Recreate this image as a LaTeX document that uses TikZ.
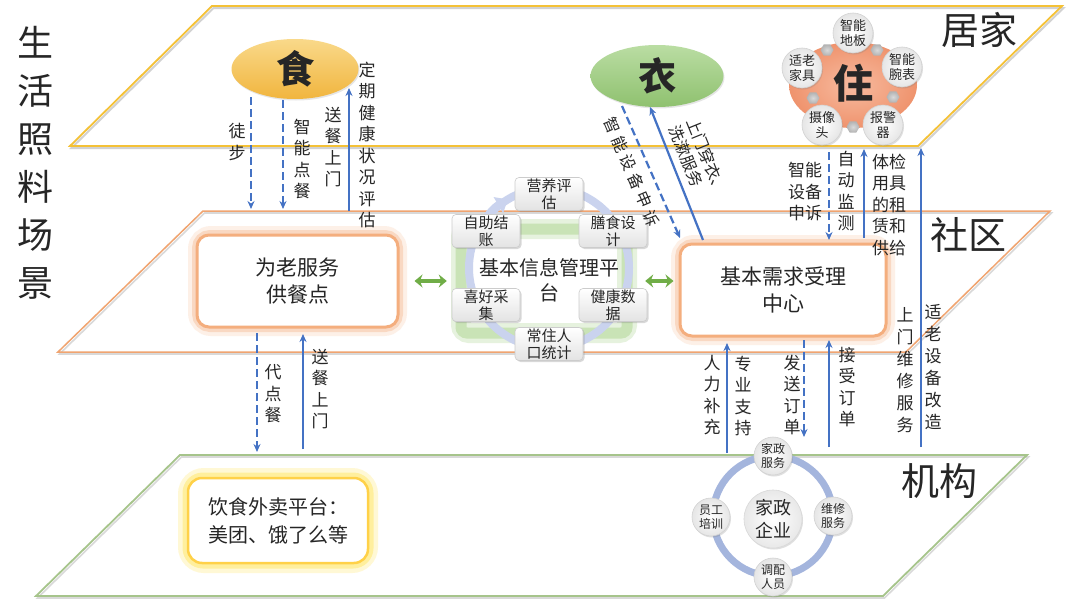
\documentclass[tikz,border=0pt]{standalone}
\usepackage{fontspec}
\setmainfont{Noto Sans CJK SC}
\usetikzlibrary{arrows.meta,shapes.geometric,shadows}
\definecolor{cgold}{HTML}{F4C136}
\definecolor{corg}{HTML}{F0A470}
\definecolor{cgrn}{HTML}{A6C48B}
\definecolor{cblue}{HTML}{4472C4}
\definecolor{cdgrn}{HTML}{70AD47}
\definecolor{cring}{HTML}{CAD3EE}
\definecolor{cring2}{HTML}{A4B5DD}
\definecolor{cglowg}{HTML}{C9E3B6}
\definecolor{cboxo}{HTML}{F4AE7E}
\definecolor{cyel}{HTML}{FFE65A}
\definecolor{shitop}{HTML}{F9D98A}
\definecolor{shibot}{HTML}{F1B53E}
\definecolor{yitop}{HTML}{BADDA3}
\definecolor{yibot}{HTML}{8FC16F}
\definecolor{zhuin}{HTML}{F7BBA0}
\definecolor{zhuout}{HTML}{EF936D}
\begin{document}
\begin{tikzpicture}[x=1pt,y=-1pt,
  every node/.style={inner sep=0pt, text=black!85},
  vlab/.style={align=center, font=\fontsize{17}{21.5}\selectfont},
  big/.style={font=\fontsize{38}{40}\selectfont},
  arrowsolid/.style={draw=cblue, line width=2.2pt, -{Stealth[length=8pt,width=7pt]}},
  arrowdash/.style={arrowsolid, dash pattern=on 8pt off 4pt},
  dblarrow/.style={draw=cdgrn, line width=4pt, {Stealth[length=8pt,width=13pt]}-{Stealth[length=8pt,width=13pt]}},
  obox/.style={draw=cboxo, line width=3pt, rounded corners=12pt, fill=white, align=center, font=\fontsize{21}{27}\selectfont},
  sbox/.style={rounded corners=4pt, minimum width=68pt, minimum height=33pt, top color=white, bottom color=gray!22, draw=gray!40, line width=0.6pt, drop shadow={opacity=.3, shadow xshift=1.5pt, shadow yshift=-1.5pt}, align=center, font=\fontsize{15}{17}\selectfont},
  scirc/.style={circle, minimum size=40pt, inner color=white, outer color=gray!20, draw=gray!35, line width=0.6pt, drop shadow={opacity=.25, shadow xshift=1pt, shadow yshift=-1.5pt}, align=center, font=\fontsize{13}{15}\selectfont},
  hexa/.style={regular polygon, regular polygon sides=6, minimum size=13pt, inner color=gray!30, outer color=gray!60}
]
\useasboundingbox (0,0) rectangle (1080,608);
\fill[white] (0,0) rectangle (1080,608);

% planes
\draw[gray!35, line width=2pt] (213.5,8) -- (1063.5,8) -- (919.5,148) -- (71.5,148) -- cycle;
\draw[cgold, line width=1.8pt] (212,6) -- (1062,6) -- (918,146) -- (70,146) -- cycle;
\draw[gray!30, line width=1.6pt] (204.5,213) -- (1051.5,213) -- (907.5,354) -- (59.5,354) -- cycle;
\draw[corg, line width=1.5pt] (203,211) -- (1050,211) -- (906,352) -- (58,352) -- cycle;
\draw[gray!30, line width=1.6pt] (181.5,457) -- (1028.5,457) -- (884.5,598) -- (37.5,598) -- cycle;
\draw[cgrn, line width=1.8pt] (180,455) -- (1027,455) -- (883,596) -- (36,596) -- cycle;

% titles
\node[big] (tju) at (979,30) {居家};
\node[big] (tsq) at (968,235) {社区};
\node[big] (tjg) at (939,481) {机构};
\node[align=center, font=\fontsize{36}{48}\selectfont] (ttl) at (35,163) {生\\活\\照\\料\\场\\景};

% top layer
\node[ellipse, minimum width=127pt, minimum height=60pt, top color=shitop, bottom color=shibot, drop shadow={opacity=.2, shadow xshift=1pt, shadow yshift=-1.5pt}, font=\fontsize{38}{40}\selectfont\bfseries] (shi) at (295,69) {食};
\node[ellipse, minimum width=133pt, minimum height=62pt, top color=yitop, bottom color=yibot, drop shadow={opacity=.2, shadow xshift=1pt, shadow yshift=-1.5pt}, font=\fontsize{38}{40}\selectfont\bfseries] (yi) at (657,76) {衣};

% zhu cluster
\node[ellipse, minimum width=128pt, minimum height=86pt, inner color=zhuin, outer color=zhuout] (zhubg) at (853,85) {};
\node[hexa] (h1) at (827,50) {};
\node[hexa] (h2) at (877,50) {};
\node[hexa] (h3) at (893,97) {};
\node[hexa] (h4) at (853,127) {};
\node[hexa] (h5) at (813,98) {};
\node[scirc] (z1) at (853,33) {智能\\地板};
\node[scirc] (z2) at (902,67) {智能\\腕表};
\node[scirc] (z3) at (883,125) {报警\\器};
\node[scirc] (z4) at (822,125) {摄像\\头};
\node[scirc] (z5) at (802,68) {适老\\家具};
\node[font=\fontsize{40}{42}\selectfont\bfseries] (zhu) at (853,83) {住};

% middle layer: food box
\draw[cboxo, opacity=.18, line width=18pt, rounded corners=14pt] (197,235) rectangle (398,327);
\draw[cboxo, opacity=.35, line width=10pt, rounded corners=13pt] (197,235) rectangle (398,327);
\node[obox, minimum width=201pt, minimum height=92pt] (food) at (297.5,281) {为老服务\\供餐点};

% service center
\draw[cboxo, opacity=.18, line width=18pt, rounded corners=14pt] (680,244) rectangle (886,336);
\draw[cboxo, opacity=.35, line width=10pt, rounded corners=13pt] (680,244) rectangle (886,336);
\node[obox, minimum width=206pt, minimum height=92pt] (ctr) at (783,290) {基本需求受理\\中心};

% platform
\draw[cglowg, opacity=.45, line width=20pt, rounded corners=8pt] (461,229) rectangle (627,333);
\draw[cglowg, line width=11pt, rounded corners=6pt] (461,229) rectangle (627,333);
\node[minimum width=193pt, minimum height=113pt] (plat) at (548.5,281) {};
\draw[cring, line width=8pt] (549,268) circle[radius=80];
\draw[cring, line width=8pt, -{Triangle[length=11pt,width=18pt]}] (549,268) ++(-160:80) arc[start angle=-160, end angle=-121, radius=80];
\node[sbox] (p1) at (549,194) {营养评\\估};
\node[sbox] (p2) at (486,231) {自助结\\账};
\node[sbox] (p3) at (613,231) {膳食设\\计};
\node[sbox] (p4) at (486,305) {喜好采\\集};
\node[sbox] (p5) at (613,305) {健康数\\据};
\node[sbox] (p6) at (549,344) {常住人\\口统计};
\node[align=center, font=\fontsize{20}{25}\selectfont] (ptxt) at (549,280) {基本信息管理平\\台};

\draw[dblarrow, shorten <=15pt, shorten >=5pt] (food.east) -- (food.east -| plat.west);
\draw[dblarrow, shorten <=0pt, shorten >=5pt] (plat.east) -- (plat.east -| ctr.west);

% bottom layer
\draw[cyel, opacity=.25, line width=20pt, rounded corners=16pt] (188,478) rectangle (368,563);
\draw[cyel, opacity=.45, line width=11pt, rounded corners=15pt] (188,478) rectangle (368,563);
\node[draw=cyel!80!orange, line width=2.5pt, fill=white, rounded corners=14pt, minimum width=180pt, minimum height=85pt, align=center, font=\fontsize{20}{28}\selectfont] (wm) at (278,520.5) {饮食外卖平台：\\美团、饿了么等};

% jiazheng cluster
\draw[cring2, line width=7pt] (773,516) circle[radius=60];
\node[circle, minimum size=58pt, inner color=white, outer color=gray!18, draw=gray!30, line width=0.6pt, drop shadow={opacity=.25, shadow xshift=1pt, shadow yshift=-1.5pt}, align=center, font=\fontsize{18}{23}\selectfont] (jz) at (773,519) {家政\\企业};
\node[scirc, minimum size=38pt, font=\fontsize{12}{14}\selectfont] (j1) at (773,456) {家政\\服务};
\node[scirc, minimum size=38pt, font=\fontsize{12}{14}\selectfont] (j2) at (833,516) {维修\\服务};
\node[scirc, minimum size=38pt, font=\fontsize{12}{14}\selectfont] (j3) at (773,577) {调配\\人员};
\node[scirc, minimum size=38pt, font=\fontsize{12}{14}\selectfont] (j4) at (711,517) {员工\\培训};

% arrow endpoints
\coordinate (a1s) at (251,97);  \coordinate (a1e) at (251,209);
\coordinate (a2s) at (283,100); \coordinate (a2e) at (283,209);
\coordinate (a3s) at (349,211); \coordinate (a3e) at (349,88);
\coordinate (a4s) at (622,106); \coordinate (a4e) at (680,238);
\coordinate (a5s) at (703,240); \coordinate (a5e) at (650,107);
\coordinate (a6s) at (829,152); \coordinate (a6e) at (829,240);
\coordinate (a7s) at (864,238); \coordinate (a7e) at (864,149);
\coordinate (a8s) at (921,447); \coordinate (a8e) at (921,148);
\coordinate (a9s) at (257,333); \coordinate (a9e) at (257,452);
\coordinate (a10s) at (303,449); \coordinate (a10e) at (303,334);
\coordinate (a11s) at (727,453); \coordinate (a11e) at (727,343);
\coordinate (a12s) at (804,340); \coordinate (a12e) at (804,437);
\coordinate (a13s) at (829,447); \coordinate (a13e) at (829,340);

\draw[arrowdash] (a1s) -- (a1e);
\draw[arrowdash] (a2s) -- (a2e);
\draw[arrowsolid] (a3s) -- (a3e);
\draw[arrowdash] (a4s) -- (a4e);
\draw[arrowsolid] (a5s) -- (a5e);
\draw[arrowdash] (a6s) -- (a6e);
\draw[arrowsolid] (a7s) -- (a7e);
\draw[arrowsolid] (a8s) -- (a8e);
\draw[arrowdash] (a9s) -- (a9e);
\draw[arrowsolid] (a10s) -- (a10e);
\draw[arrowsolid] (a11s) -- (a11e);
\draw[arrowdash] (a12s) -- (a12e);
\draw[arrowsolid] (a13s) -- (a13e);

% labels
\node[vlab] (l1) at (237,142) {徒\\步};
\node[vlab] (l2) at (302,159) {智\\能\\点\\餐};
\node[vlab] (l3) at (333,147) {送\\餐\\上\\门};
\node[vlab] (l4) at (367,145) {定\\期\\健\\康\\状\\况\\评\\估};
\node[font=\fontsize{16}{19}\selectfont, rotate=-67] (l5) at (632,172) {智\hspace{4pt}能\hspace{4pt}设\hspace{4pt}备\hspace{4pt}申\hspace{4pt}诉};
\node[align=left, font=\fontsize{16}{19}\selectfont, rotate=-68] (l6) at (698,160) {上门穿衣、\\洗漱服务};
\node[vlab] (l7) at (805,192) {智能\\设备\\申诉};
\node[vlab] (l8) at (846,191) {自\\动\\监\\测};
\node[vlab] (l9) at (889,205) {体检\\用具\\的租\\赁和\\供给};
\node[vlab, font=\fontsize{17}{22}\selectfont] (l10) at (905,370) {上\\门\\维\\修\\服\\务};
\node[vlab, font=\fontsize{17}{22}\selectfont] (l11) at (933,367) {适\\老\\设\\备\\改\\造};
\node[vlab] (l12) at (712,395) {人\\力\\补\\充};
\node[vlab] (l13) at (743,396) {专\\业\\支\\持};
\node[vlab] (l14) at (792,395) {发\\送\\订\\单};
\node[vlab] (l15) at (847,387) {接\\受\\订\\单};
\node[vlab] (l16) at (273,394) {代\\点\\餐};
\node[vlab] (l17) at (320,389) {送\\餐\\上\\门};
\end{tikzpicture}
\end{document}
